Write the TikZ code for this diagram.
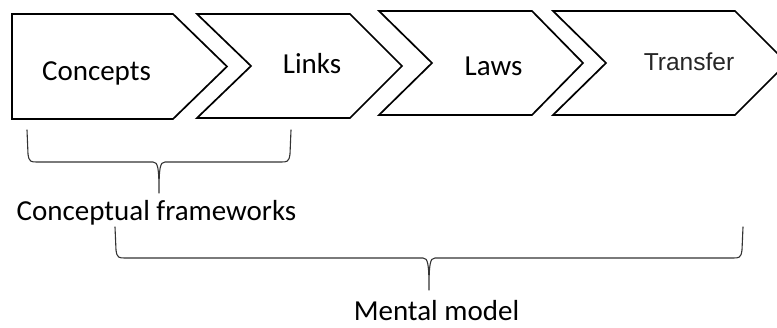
\documentclass[tikz,border=0pt]{standalone}
\usepackage{fontspec}
\setmainfont{Carlito}
\newfontfamily\arialfont{Liberation Sans}
\begin{document}
\begin{tikzpicture}[x=1pt,y=-1pt,
  chev/.style={draw=black,line width=1.7pt,line join=miter,fill=white},
  lbl/.style={inner sep=0pt,anchor=base,font=\fontsize{29}{31}\selectfont},
  tlbl/.style={inner sep=0pt,anchor=base,font=\arialfont\fontsize{24.5}{27}\selectfont,text=black!85},
  bracel/.style={draw=black!80,line width=1.1pt,line cap=round,line join=round}]
\useasboundingbox (0,0) rectangle (777,328);
\clip (0,0) rectangle (777,328);
% chevron shapes
\draw[chev] (12,14) -- (173,14) -- (227,66.5) -- (173,119) -- (12,119) -- cycle;
\draw[chev] (197,14) -- (350,14) -- (402,66) -- (350,118) -- (197,118) -- (251,66) -- cycle;
\draw[chev] (379,11) -- (532,11) -- (583,63) -- (532,115) -- (379,115) -- (432,63) -- cycle;
\draw[chev] (553,11) -- (735,11) -- (787,63) -- (735,115) -- (553,115) -- (606,63) -- cycle;
% labels
\node[lbl] (concepts) at (96.5,81) {Concepts};
\node[lbl] (links) at (312,74) {Links};
\node[lbl] (laws) at (493.5,76) {Laws};
\node[tlbl] (transfer) at (689,71) {Transfer};
\node[lbl] (cf) at (156.5,221) {Conceptual frameworks};
\node[lbl] (mm) at (436.5,321) {Mental model};
% braces
\draw[bracel] (27,130) -- (28,154) .. controls (29,162) and (31,162) .. (37,162) -- (153,162) .. controls (158,162) and (159,168) .. (159,193) .. controls (159,168) and (160,162) .. (165,162) -- (281,162) .. controls (287,162) and (289,162) .. (290,154) -- (291,130);
\draw[bracel] (115,227) -- (116,250) .. controls (117,258) and (119,258) .. (125,258) -- (423,258) .. controls (428,258) and (429,264) .. (429,290) .. controls (429,264) and (430,258) .. (435,258) -- (733,258) .. controls (739,258) and (741,258) .. (742,250) -- (743,227);
\end{tikzpicture}
\end{document}
